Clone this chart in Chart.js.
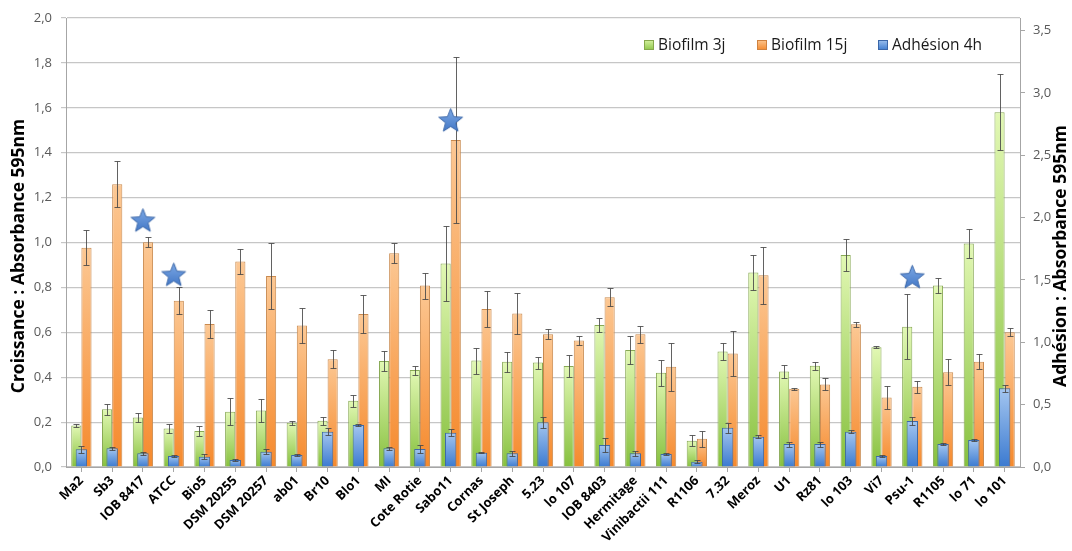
<!DOCTYPE html>
<html>
<head>
<meta charset="utf-8">
<script src="https://cdn.jsdelivr.net/npm/chart.js@4"></script>
<style>
  html, body { margin: 0; padding: 0; background: #fff; }
  #wrap { width: 1072px; height: 551px; position: relative; }
</style>
</head>
<body>
<div id="wrap"><canvas id="chart"></canvas></div>
<script>
const categories = ['Ma2', 'Sb3', 'IOB 8417', 'ATCC', 'Bio5', 'DSM 20255', 'DSM 20257', 'ab01', 'Br10', 'Blo1',
  'MI', 'Cote Rotie', 'Sabo11', 'Cornas', 'St Joseph', '5.23', 'lo 107', 'IOB 8403', 'Hermitage', 'Vinibactii 111',
  'R1106', '7.32', 'Meroz', 'U1', 'Rz81', 'lo 103', 'Vi7', 'Psu-1', 'R1105', 'lo 71', 'lo 101'];

// left axis (croissance)
const biofilm3j = [0.185, 0.257, 0.221, 0.172, 0.160, 0.246, 0.252, 0.197, 0.206, 0.295,
  0.472, 0.432, 0.907, 0.474, 0.469, 0.465, 0.450, 0.633, 0.521, 0.420,
  0.117, 0.514, 0.866, 0.425, 0.451, 0.944, 0.533, 0.625, 0.808, 0.996, 1.580];
const biofilm3jErr = [0.005, 0.024, 0.020, 0.020, 0.023, 0.060, 0.050, 0.010, 0.018, 0.026,
  0.045, 0.020, 0.166, 0.058, 0.045, 0.027, 0.050, 0.032, 0.062, 0.057,
  0.025, 0.037, 0.077, 0.030, 0.018, 0.070, 0.005, 0.144, 0.033, 0.063, 0.170];
const biofilm15j = [0.977, 1.259, 1.001, 0.741, 0.637, 0.915, 0.851, 0.630, 0.480, 0.682,
  0.952, 0.808, 1.457, 0.704, 0.684, 0.591, 0.563, 0.756, 0.591, 0.447,
  0.126, 0.506, 0.854, 0.349, 0.368, 0.636, 0.310, 0.358, 0.422, 0.469, 0.600];
const biofilm15jErr = [0.077, 0.103, 0.022, 0.060, 0.061, 0.055, 0.145, 0.078, 0.041, 0.084,
  0.045, 0.058, 0.371, 0.080, 0.093, 0.022, 0.020, 0.040, 0.037, 0.107,
  0.036, 0.100, 0.127, 0.004, 0.027, 0.012, 0.050, 0.027, 0.058, 0.034, 0.018];

// right axis (adhesion)
const adhesion4h = [0.142, 0.150, 0.110, 0.088, 0.083, 0.056, 0.123, 0.096, 0.283, 0.337,
  0.150, 0.144, 0.275, 0.115, 0.110, 0.358, null, 0.176, 0.110, 0.104,
  0.043, 0.315, 0.243, 0.184, 0.184, 0.283, 0.088, 0.369, 0.184, 0.216, 0.631];
const adhesion4hErr = [0.026, 0.010, 0.010, 0.005, 0.020, 0.010, 0.020, 0.010, 0.030, 0.010,
  0.010, 0.030, 0.030, 0.005, 0.020, 0.045, 0, 0.055, 0.020, 0.010,
  0.010, 0.040, 0.010, 0.020, 0.020, 0.010, 0.005, 0.035, 0.010, 0.010, 0.030];

// stars (left axis value of the star centre)
const starMarks = [null, null, 1.097, 0.855, null, null, null, null, null, null,
  null, null, 1.543, null, null, null, null, null, null, null,
  null, null, null, null, null, null, null, 0.845, null, null, null];

const leftTicks = [0, 0.2, 0.4, 0.6, 0.8, 1.0, 1.2, 1.4, 1.6, 1.8, 2.0];
const rightTicks = [0, 0.5, 1.0, 1.5, 2.0, 2.5, 3.0, 3.5];
const legendLabels = ['Biofilm 3j', 'Biofilm 15j', 'Adhésion 4h'];

const FONT = "'Open Sans', 'DejaVu Sans', sans-serif";
const fmt = v => v.toFixed(1).replace('.', ',');

// vertical gradient per bar, from the value down to 0
function barGrad(top, bottom, axisId) {
  return function (c) {
    if (c.type !== 'data') return bottom;
    const sc = c.chart.scales[axisId];
    if (!sc || c.raw == null) return bottom;
    const y0 = sc.getPixelForValue(c.raw);
    const y1 = sc.getPixelForValue(0);
    if (!isFinite(y0) || y1 - y0 < 1) return bottom;
    const g = c.chart.ctx.createLinearGradient(0, y0, 0, y1);
    g.addColorStop(0, top);
    g.addColorStop(1, bottom);
    return g;
  };
}

// star marker image
function makeStar() {
  const cv = document.createElement('canvas');
  cv.width = 27; cv.height = 27;
  const c = cv.getContext('2d');
  const cx = 13.5, cy = 14, ro = 12.5, ri = 5.4;
  c.beginPath();
  for (let i = 0; i < 10; i++) {
    const r = i % 2 ? ri : ro;
    const a = -Math.PI / 2 + i * Math.PI / 5;
    c.lineTo(cx + r * Math.cos(a), cy + r * Math.sin(a));
  }
  c.closePath();
  const g = c.createLinearGradient(0, 1, 0, 26);
  g.addColorStop(0, '#7eaae6');
  g.addColorStop(1, '#3f74c4');
  c.fillStyle = g;
  c.fill();
  c.strokeStyle = '#3a66a8';
  c.lineWidth = 1;
  c.stroke();
  return cv;
}

const errorBars = {
  id: 'errorBars',
  afterDatasetDraw(chart, args) {
    const ds = chart.data.datasets[args.index];
    if (!ds.errors) return;
    const meta = args.meta;
    const sc = chart.scales[meta.yAxisID];
    const ctx = chart.ctx;
    ctx.save();
    ctx.strokeStyle = 'rgba(70,70,70,0.85)';
    ctx.lineWidth = 1;
    meta.data.forEach((el, i) => {
      const v = ds.data[i], e = ds.errors[i];
      if (v == null || !e) return;
      const x = Math.round(el.x) + 0.5;
      const yt = Math.round(sc.getPixelForValue(v + e)) + 0.5;
      const yb = Math.round(sc.getPixelForValue(Math.max(v - e, 0))) + 0.5;
      ctx.beginPath();
      ctx.moveTo(x, yt); ctx.lineTo(x, yb);
      ctx.moveTo(x - 3, yt); ctx.lineTo(x + 3, yt);
      ctx.moveTo(x - 3, yb); ctx.lineTo(x + 3, yb);
      ctx.stroke();
    });
    ctx.restore();
  }
};

const extras = {
  id: 'extras',
  afterDraw(chart) {
    const ctx = chart.ctx;
    const a = chart.chartArea;
    ctx.save();
    // axis titles
    ctx.fillStyle = '#000';
    ctx.font = 'bold 17.5px ' + FONT;
    ctx.textAlign = 'center';
    ctx.textBaseline = 'middle';
    const midY = 256;
    [[19, 'Croissance : Absorbance 595nm'], [1061, 'Adhésion : Absorbance 595nm']].forEach(([x, t]) => {
      ctx.save();
      ctx.translate(x, midY);
      ctx.rotate(-Math.PI / 2);
      ctx.fillText(t, 0, 0);
      ctx.restore();
    });
    // legend
    const cols = [['#d6f2a0', '#8ec64a', '#86a84c'], ['#fcc690', '#f58a2e', '#cf8240'], ['#9cc0ee', '#3d7cd0', '#3a66a8']];
    const offs = [-376, -263, -142];
    ctx.font = '15.5px ' + FONT;
    ctx.textAlign = 'left';
    const ly = a.top + 27;
    legendLabels.forEach((t, i) => {
      const bx = a.right + offs[i];
      const g = ctx.createLinearGradient(0, ly - 5, 0, ly + 5);
      g.addColorStop(0, cols[i][0]); g.addColorStop(1, cols[i][1]);
      ctx.fillStyle = g;
      ctx.fillRect(bx, ly - 5, 10, 10);
      ctx.strokeStyle = cols[i][2];
      ctx.strokeRect(bx + 0.5, ly - 4.5, 9, 9);
      ctx.fillStyle = '#1a1a1a';
      ctx.fillText(t, bx + 14, ly + 1);
    });
    ctx.restore();
  }
};

new Chart(document.getElementById('chart'), {
  type: 'bar',
  data: {
    labels: categories,
    datasets: [
      {
        label: legendLabels[0], data: biofilm3j, errors: biofilm3jErr, yAxisID: 'y',
        backgroundColor: barGrad('#e2f8b4', '#86c03e', 'y'), borderColor: '#88a955', borderWidth: 1,
        categoryPercentage: 0.66, barPercentage: 1.0
      },
      {
        label: legendLabels[1], data: biofilm15j, errors: biofilm15jErr, yAxisID: 'y',
        backgroundColor: barGrad('#fcc894', '#f5892c', 'y'), borderColor: '#c98a4f', borderWidth: 1,
        categoryPercentage: 0.66, barPercentage: 1.0
      },
      {
        label: legendLabels[2], data: adhesion4h, errors: adhesion4hErr, yAxisID: 'y2',
        backgroundColor: barGrad('#a4c6f0', '#3b7ad0', 'y2'), borderColor: '#3c69a8', borderWidth: 1,
        grouped: false, categoryPercentage: 1.0, barPercentage: 0.37, order: -1
      },
      {
        type: 'line', label: 'stars', data: starMarks, yAxisID: 'y', showLine: false,
        pointStyle: makeStar(), pointRadius: 12, order: -2
      }
    ]
  },
  options: {
    responsive: true,
    maintainAspectRatio: false,
    animation: false,
    layout: { padding: { top: 18, right: 0, left: 0, bottom: 0 } },
    plugins: { legend: { display: false }, tooltip: { enabled: false } },
    scales: {
      x: {
        grid: { offset: false, drawOnChartArea: false, tickLength: 5, color: '#a6a6a6' },
        border: { color: '#a6a6a6' },
        ticks: {
          autoSkip: false, minRotation: 45, maxRotation: 45, padding: 1,
          color: '#000', font: { family: FONT, size: 13, weight: 'bold' }
        },
        afterFit: s => { s.height = 84; }
      },
      y: {
        position: 'left', min: 0, max: 2,
        grid: { color: '#c6c6c6', lineWidth: 1.2, tickLength: 5 },
        border: { color: '#a6a6a6' },
        ticks: { padding: 9, color: '#595959', font: { family: FONT, size: 13 }, callback: v => fmt(v) },
        afterBuildTicks: s => { s.ticks = leftTicks.map(v => ({ value: v })); },
        afterFit: s => { s.width = 66; }
      },
      y2: {
        position: 'right', min: 0, max: 3.6,
        grid: { drawOnChartArea: false, tickLength: 5, color: '#a6a6a6' },
        border: { color: '#a6a6a6' },
        ticks: { padding: 8, color: '#595959', font: { family: FONT, size: 13 }, callback: v => fmt(v) },
        afterBuildTicks: s => { s.ticks = rightTicks.map(v => ({ value: v })); },
        afterFit: s => { s.width = 52; }
      }
    }
  },
  plugins: [errorBars, extras]
});
</script>
</body>
</html>
